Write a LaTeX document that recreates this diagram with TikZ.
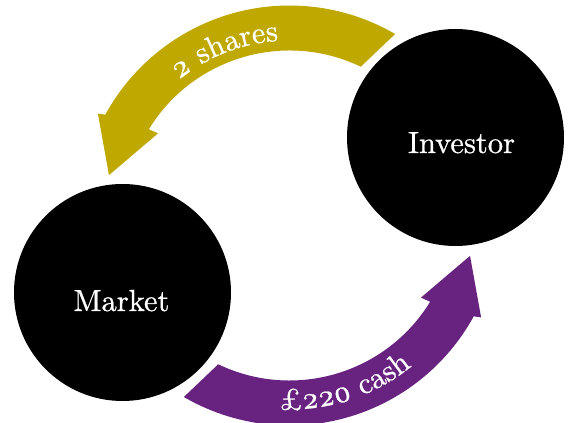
\documentclass[tikz,border=0pt]{standalone}
\usepackage{fontspec}
\usetikzlibrary{decorations.text}
\newfontfamily\lmonum{lmroman10-regular}[Extension=.otf, Numbers=OldStyle, FakeBold=0.8]
\newcommand\bigtxt{\fontsize{30.5}{36}\selectfont\lmonum}
\definecolor{goldarrow}{RGB}{191,168,0}
\definecolor{purplearrow}{RGB}{104,35,128}
\begin{document}
\begin{tikzpicture}[x=1pt,y=1pt,
  party/.style={circle,fill=black,minimum size=217pt,inner sep=0pt},
  partylabel/.style={text=white,font=\bigtxt,anchor=base},
  bandshape/.pic={
    \fill[pic actions] (59.8:210pt) arc[start angle=59.8,end angle=151.3,radius=210pt]
      -- (152:217pt) -- (167.4:185pt) -- (148:155pt) -- (148.5:165pt)
      arc[start angle=148.5,end angle=64.4,radius=165pt] -- cycle;
  },
  arctext/.style={decorate,decoration={text along path,text align=center,text color=white,text={|\bigtxt|#1}}}]
\useasboundingbox (0,0) rectangle (571,423);
\clip (0,0) rectangle (571,423);
\coordinate (C) at (289.5,207.5);
% arrows
\pic[fill=goldarrow] at (C) {bandshape};
\pic[fill=purplearrow,rotate=180] at (C) {bandshape};
% arc labels
\path[arctext={2 shares}] ([shift={(C)}]140:175pt) arc[start angle=140,end angle=82.8,radius=175pt];
\path[arctext={£220 cash}] ([shift={(C)}]-100:194pt) arc[start angle=-100,end angle=-43.8,radius=194pt];
% parties
\node[party] (investor) at (455.5,285.5) {};
\node[party] (market) at (122.5,130.5) {};
\node[partylabel] at ([shift={(6,-15.5)}]investor.center) {Investor};
\node[partylabel] at ([shift={(-1,-18.5)}]market.center) {Market};
\end{tikzpicture}
\end{document}
